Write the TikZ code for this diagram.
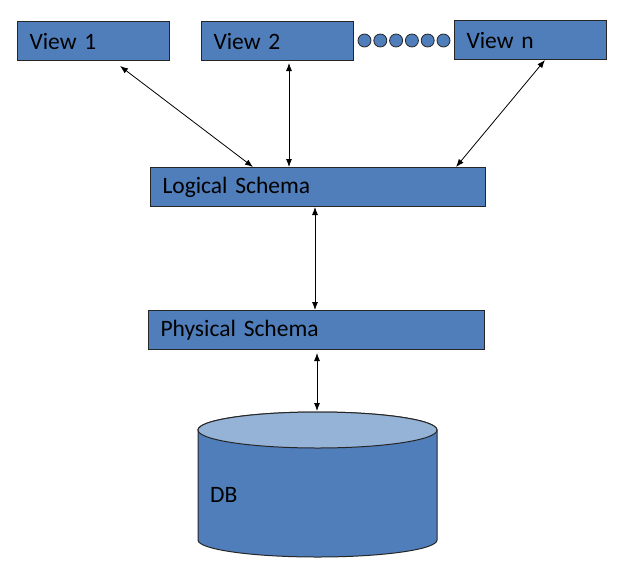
\documentclass[tikz,border=0pt]{standalone}
\usepackage{fontspec}
\setmainfont{Carlito}
\usetikzlibrary{arrows.meta,calc}
\definecolor{boxblue}{HTML}{4F7EBB}
\definecolor{topblue}{HTML}{95B3D7}
\definecolor{edgecol}{HTML}{262626}
\begin{document}
\begin{tikzpicture}[x=1pt,y=-1pt,
  box/.style={draw=edgecol, line width=1pt, fill=boxblue, rectangle, anchor=north west,
    inner xsep=12pt, inner ysep=0pt, align=left, minimum height=39pt,
    font=\fontsize{23.5}{28}\selectfont},
  dotc/.style={circle, draw=edgecol, fill=boxblue, minimum size=13pt, inner sep=0pt, line width=0.8pt},
  link/.style={{Latex[length=8pt,width=6pt]}-{Latex[length=8pt,width=6pt]}, line width=0.8pt, black}]
\useasboundingbox (0,0) rectangle (621,573);
% view boxes
\node[box, text width=128pt] (v1) at (17,21) {View 1};
\node[box, text width=128pt] (v2) at (201,21) {View 2};
\node[box, text width=128pt] (vn) at (454,20) {View n};
\foreach \i in {0,...,5} \node[dotc] (d\i) at (364.5+15.8*\i, 40.5) {};
% schema boxes
\node[box, text width=311pt] (lg) at (150,167) {Logical Schema};
\node[box, text width=312pt] (ph) at (148,310) {Physical Schema};
% database cylinder
\draw[draw=edgecol, line width=1pt, fill=boxblue]
  (198,430) -- (198,540) arc[start angle=180, end angle=360, x radius=119.5pt, y radius=17pt]
  -- (437,430) arc[start angle=0, end angle=180, x radius=119.5pt, y radius=18pt] -- cycle;
\draw[draw=edgecol, line width=1pt, fill=topblue] (317.5,430) ellipse[x radius=119.5pt, y radius=18pt];
\coordinate (dbtop) at (317,411);
\node[anchor=base west, inner sep=0pt, font=\fontsize{23.5}{28}\selectfont] (db) at (210,502) {DB};
% connectors
\draw[link] ([xshift=103pt,yshift=-5pt]v1.south west) -- ([xshift=103pt]lg.north west);
\draw[link] ([xshift=88pt,yshift=-2pt]v2.south west) -- ([xshift=139pt]lg.north west);
\draw[link] ([xshift=91pt]vn.south west) -- ([xshift=306pt]lg.north west);
\draw[link] ([xshift=165pt]lg.south west) -- ([xshift=167pt]ph.north west);
\draw[link] ([xshift=169pt,yshift=-3pt]ph.south west) -- (dbtop);
\end{tikzpicture}
\end{document}
